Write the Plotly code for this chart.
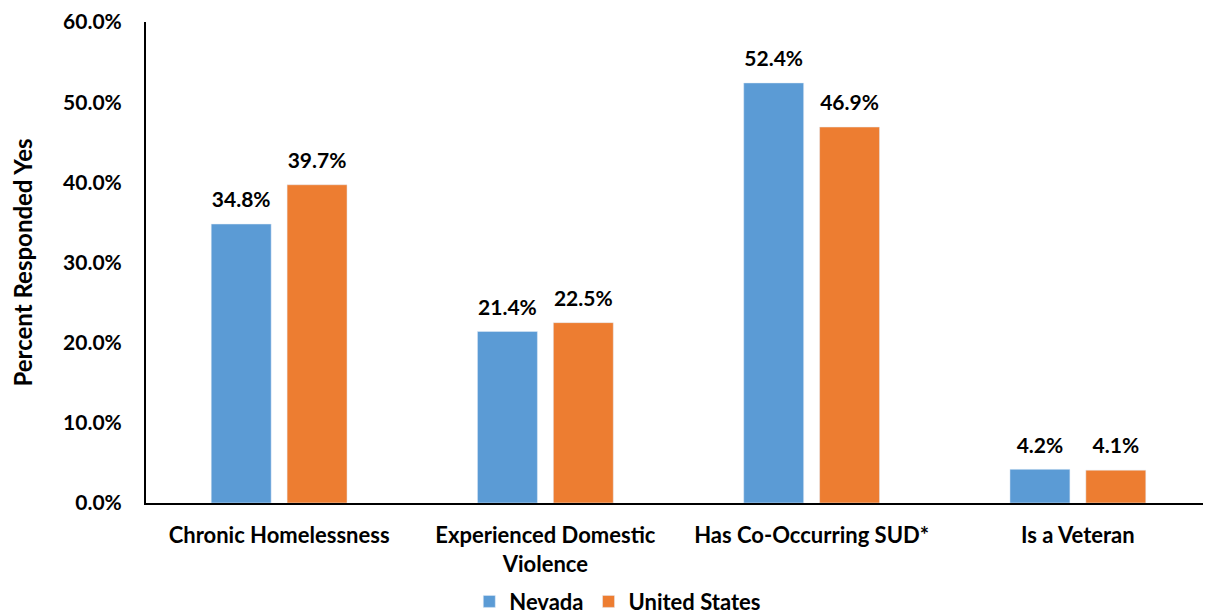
import plotly.graph_objects as go

categories = ["Chronic Homelessness", "Experienced Domestic<br>Violence", "Has Co-Occurring SUD*", "Is a Veteran"]
nevada = [34.8, 21.4, 52.4, 4.2]
united_states = [39.7, 22.5, 46.9, 4.1]
y_ticks = [0, 10, 20, 30, 40, 50, 60]
y_tick_labels = [f"{v:.1f}%" for v in y_ticks]

FONT = "Lato"
NUM = 21
TXT = 22
LABEL_TMPL = "<span style='font-size:21px'><b>%{y:.1f}%</b></span><br> "
fig = go.Figure()
fig.add_trace(go.Bar(
    name="Nevada", x=categories, y=nevada, marker_color="#5B9BD5",
    textposition="outside", texttemplate=LABEL_TMPL,
    textfont=dict(family=FONT, size=9, color="black"), cliponaxis=False,
))
fig.add_trace(go.Bar(
    name="United States", x=categories, y=united_states, marker_color="#ED7D31",
    textposition="outside", texttemplate=LABEL_TMPL,
    textfont=dict(family=FONT, size=9, color="black"), cliponaxis=False,
))
fig.update_layout(
    width=1211, height=614,
    margin=dict(l=138, r=8, t=14, b=119, autoexpand=False),
    paper_bgcolor="white", plot_bgcolor="white",
    font=dict(family=FONT, size=TXT, color="black"),
    barmode="group", bargap=0.43, bargroupgap=0.21,
    showlegend=True,
    legend=dict(orientation="h", x=0.443, xanchor="center", y=-0.205, yanchor="middle",
                font=dict(family=FONT, size=22, color="black"), traceorder="normal"),
)
fig.update_yaxes(
    range=[0, 60], tickvals=y_ticks, ticktext=[f"<b>{t}</b>" for t in y_tick_labels],
    tickfont=dict(family=FONT, size=NUM), ticklabeloverflow="allow",
    showline=True, linecolor="black", linewidth=2, showgrid=False, zeroline=False,
    ticks="", ticklabelstandoff=18, automargin=False,
    title=dict(text="<b>Percent Responded Yes</b>", font=dict(family=FONT, size=24), standoff=41),
)
fig.update_xaxes(
    showline=True, linecolor="black", linewidth=2, showgrid=False, ticks="",
    tickvals=categories, ticktext=[f"<b>{c}</b>" for c in categories],
    tickfont=dict(family=FONT, size=TXT), ticklabelstandoff=12, automargin=False,
)
fig.for_each_trace(lambda t: t.update(name=f"<b>{t.name}</b>"))
fig.write_html("out.html")
